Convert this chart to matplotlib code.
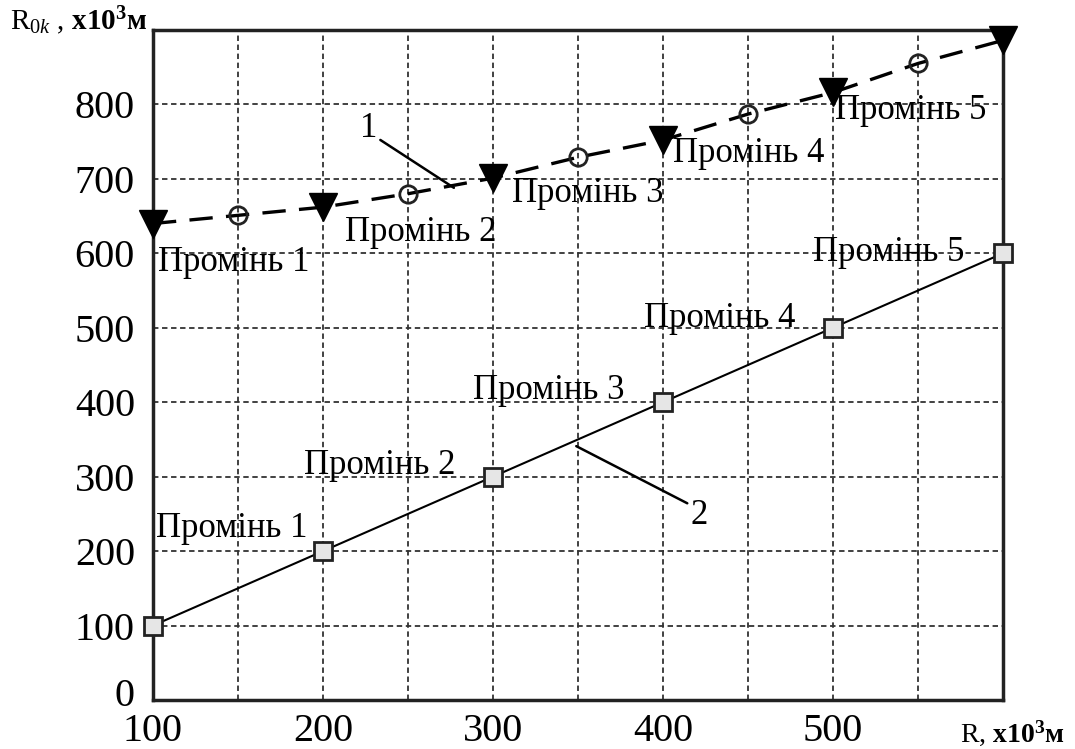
import matplotlib
matplotlib.use("Agg")
import matplotlib.pyplot as plt
from matplotlib.transforms import ScaledTranslation

plt.rcParams['font.family'] = ['Liberation Serif', 'DejaVu Serif']
plt.rcParams['mathtext.fontset'] = 'custom'
plt.rcParams['mathtext.rm'] = 'Liberation Serif'
plt.rcParams['mathtext.it'] = 'Liberation Serif:italic'
plt.rcParams['mathtext.bf'] = 'Liberation Serif:bold'

# Curve 1 (dashed): triangles at ray positions, circles in between
tri_x = [100, 200, 300, 400, 500, 600]
tri_y = [640, 662, 701, 752, 816, 886]
circ_x = [150, 250, 350, 450, 550]
circ_y = [651, 680, 729, 787, 855]
# Curve 2 (solid): squares
sq_x = [100, 200, 300, 400, 500, 600]
sq_y = [100, 200, 300, 400, 500, 600]

label_text = ["Промінь 1", "Промінь 2", "Промінь 3", "Промінь 4", "Промінь 5"]
upper_lab_x = [103, 213, 311, 406, 501]
upper_lab_y = [588, 628, 680, 734, 792]
lower_lab_x = [102, 189, 288, 389, 488]
lower_lab_y = [231, 315, 416, 513, 601]

x_ticks = [100, 200, 300, 400, 500]
y_ticks = [0, 100, 200, 300, 400, 500, 600, 700, 800]

fig = plt.figure(figsize=(10.75, 7.49), dpi=100)
ax = fig.add_axes([0.1423, 0.0654, 0.933 - 0.1423, 0.96 - 0.0654])

# merged dashed curve
allx = sorted(tri_x + circ_x)
d = dict(zip(tri_x, tri_y)); d.update(zip(circ_x, circ_y))
ally = [d[x] for x in allx]
ax.plot(allx, ally, color='black', lw=2.4, dashes=(7, 4), zorder=3)
ax.plot(circ_x, circ_y, ls='none', marker='o', ms=12.5, mfc='none', mec='#222222', mew=2, zorder=4)
ax.plot(tri_x, tri_y, ls='none', marker='v', ms=20, color='black', zorder=5, clip_on=False)

ax.plot(sq_x, sq_y, color='black', lw=1.5, zorder=3)
ax.plot(sq_x, sq_y, ls='none', marker='s', ms=13, mfc='#e6e6e6', mec='#222222', mew=2, zorder=5, clip_on=False)

for t, x, y in zip(label_text, upper_lab_x, upper_lab_y):
    ax.text(x, y, t, fontsize=25, ha='left', va='center', zorder=6)
for t, x, y in zip(label_text, lower_lab_x, lower_lab_y):
    ax.text(x, y, t, fontsize=25, ha='left', va='center', zorder=6)

# leader lines with numbers
ax.annotate("1", xy=(277, 688), xytext=(227, 768), fontsize=25, ha='center', va='center',
            arrowprops=dict(arrowstyle='-', color='black', lw=1.8, shrinkA=0, shrinkB=0,
                            relpos=(1.0, 0.2)))
ax.annotate("2", xy=(349, 341), xytext=(421, 248), fontsize=25, ha='center', va='center',
            arrowprops=dict(arrowstyle='-', color='black', lw=1.8, shrinkA=0, shrinkB=0,
                            relpos=(-0.1, 0.85)))

ax.set_xlim(100, 600)
ax.set_ylim(0, 900)
ax.set_xticks(x_ticks)
ax.set_yticks(y_ticks)
ax.set_xticks(list(range(150, 600, 50)), minor=True)
ax.tick_params(which='both', length=0, labelsize=29)
ax.tick_params(axis='y', pad=13)
ax.tick_params(axis='x', pad=9)
ax.grid(True, which='both', color='#333333', lw=1.3, ls=(0, (3, 2)))
ax.set_axisbelow(True)
for s in ax.spines.values():
    s.set_linewidth(2.5)
    s.set_color('#222222')
# lift the "0" label a little, as in the reference
zero = ax.get_yticklabels()[0]
zero.set_transform(zero.get_transform() + ScaledTranslation(0, 6 / 72, fig.dpi_scale_trans))

fig.text(10 / 1075, 1 - 30 / 749, r"R$_{\mathit{0k}}$ , $\mathbf{x10^3м}$", fontsize=21,
         ha='left', va='baseline')
fig.text(960 / 1075, 1 - 742 / 749, r"R, $\mathbf{x10^3м}$", fontsize=20,
         ha='left', va='baseline')

fig.savefig("out.png", dpi=100)
